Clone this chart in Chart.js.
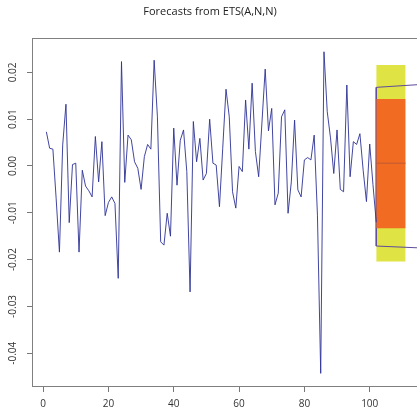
<!DOCTYPE html>
<html>
<head>
<meta charset="utf-8">
<script src="https://cdn.jsdelivr.net/npm/chart.js@4.4.0/dist/chart.umd.min.js"></script>
<style>
  html, body { margin: 0; padding: 0; background: #fff; overflow: hidden; }
  canvas { display: block; }
</style>
</head>
<body>
<canvas id="chart" width="422" height="410"></canvas>
<script>
// observed series, t = 1..102
var seriesValues = [
  0.0073, 0.0038, 0.0036, -0.0070, -0.0184, 0.0045, 0.0132, -0.0121, 0.0003, 0.0006,
  -0.0184, -0.0009, -0.0043, -0.0053, -0.0066, 0.0063, -0.0034, 0.0052, -0.0106, -0.0078,
  -0.0066, -0.0080, -0.0240, 0.0223, -0.0035, 0.0066, 0.0056, 0.0009, -0.0005, -0.0050,
  0.0020, 0.0046, 0.0036, 0.0226, 0.0105, -0.0162, -0.0169, -0.0101, -0.0150, 0.0081,
  -0.0041, 0.0055, 0.0077, -0.0012, -0.0269, 0.0095, 0.0009, 0.0059, -0.0030, -0.0016,
  0.0100, 0.0006, 0.0002, -0.0087, 0.0038, 0.0164, 0.0105, -0.0055, -0.0090, -0.0001,
  -0.0012, 0.0141, 0.0036, 0.0177, 0.0031, -0.0023, 0.0092, 0.0207, 0.0075, 0.0123,
  -0.0083, -0.0058, 0.0105, 0.0120, -0.0101, -0.0034, 0.0098, -0.0051, -0.0066, 0.0013,
  0.0018, 0.0013, 0.0066, -0.0105, -0.0443, 0.0244, 0.0116, 0.0060, -0.0016, 0.0077,
  -0.0050, -0.0055, 0.0173, -0.0023, 0.0052, 0.0046, 0.0069, -0.0009, -0.0076, 0.0047,
  -0.0040, -0.0120
];

// forecast horizon
var fcX = [102, 111];
var fcMean = [0.0006, 0.0006];
var lo80 = -0.0133, hi80 = 0.0143;
var lo95 = -0.0204, hi95 = 0.0216;

// outline drawn over the forecast region
var outlineX = [115.4, 102, 102, 115.4];
var outlineY = [0.0174, 0.0168, -0.0171, -0.0175];

var xTicks = [0, 20, 40, 60, 80, 100];
var yTicks = [-0.04, -0.03, -0.02, -0.01, 0.00, 0.01, 0.02];

var fontFam = "'Open Sans', 'DejaVu Sans', sans-serif";

function pts(xs, ys) {
  return xs.map(function (x, i) { return { x: x, y: ys[i] }; });
}

var obs = seriesValues.map(function (v, i) { return { x: i + 1, y: v }; });

var boxPlugin = {
  id: 'box',
  beforeDatasetsDraw: function (chart) {
    var a = chart.chartArea, ctx = chart.ctx;
    ctx.save();
    ctx.strokeStyle = '#808080';
    ctx.lineWidth = 1;
    ctx.strokeRect(Math.round(a.left) + 0.5, Math.round(a.top) + 0.5,
      Math.round(a.right - a.left), Math.round(a.bottom - a.top));
    ctx.restore();
  }
};

new Chart(document.getElementById('chart'), {
  type: 'line',
  data: {
    datasets: [
      {
        data: obs, borderColor: 'rgba(45,50,150,0.9)', borderWidth: 1,
        pointRadius: 0, fill: false, tension: 0, order: 0
      },
      {
        data: pts(fcX, fcMean), borderColor: '#c05a35', borderWidth: 1,
        pointRadius: 0, fill: false, order: 1
      },
      {
        data: pts(fcX, [hi80, hi80]), borderWidth: 0, borderColor: 'rgba(0,0,0,0)',
        backgroundColor: '#f26b22', pointRadius: 0, fill: { value: lo80 }, order: 2
      },
      {
        data: pts(outlineX, outlineY), borderColor: '#5e4c9c', borderWidth: 1,
        pointRadius: 0, fill: false, order: 3
      },
      {
        data: pts(fcX, [hi95, hi95]), borderWidth: 0, borderColor: 'rgba(0,0,0,0)',
        backgroundColor: '#dfe343', pointRadius: 0, fill: { value: lo95 }, order: 4
      }
    ]
  },
  options: {
    responsive: false,
    animation: false,
    layout: { padding: { left: 0, right: 2, top: 0, bottom: 0 } },
    plugins: {
      legend: { display: false },
      tooltip: { enabled: false },
      title: {
        display: true,
        text: 'Forecasts from ETS(A,N,N)',
        color: '#222',
        font: { family: fontFam, size: 11, weight: 'normal' },
        padding: { top: 5, bottom: 20 }
      }
    },
    scales: {
      x: {
        type: 'linear',
        min: -3.4,
        max: 115.4,
        afterBuildTicks: function (s) { s.ticks = xTicks.map(function (v) { return { value: v }; }); },
        afterFit: function (s) { s.height = 24; },
        grid: { drawOnChartArea: false, drawTicks: true, tickLength: 6, color: '#777' },
        border: { display: false },
        ticks: {
          autoSkip: false, maxRotation: 0, padding: 6, color: '#333',
          font: { family: fontFam, size: 10 },
          callback: function (v) { return v; }
        }
      },
      y: {
        type: 'linear',
        min: -0.0470,
        max: 0.0273,
        afterBuildTicks: function (s) { s.ticks = yTicks.map(function (v) { return { value: v }; }); },
        afterFit: function (s) { s.width = 32; },
        grid: { drawOnChartArea: false, drawTicks: true, tickLength: 5, color: '#777' },
        border: { display: false },
        ticks: {
          autoSkip: false, minRotation: 90, maxRotation: 90, crossAlign: 'center',
          padding: 2, color: '#333',
          font: { family: fontFam, size: 10 },
          callback: function (v) { return v.toFixed(2); }
        }
      }
    }
  },
  plugins: [boxPlugin]
});
</script>
</body>
</html>
